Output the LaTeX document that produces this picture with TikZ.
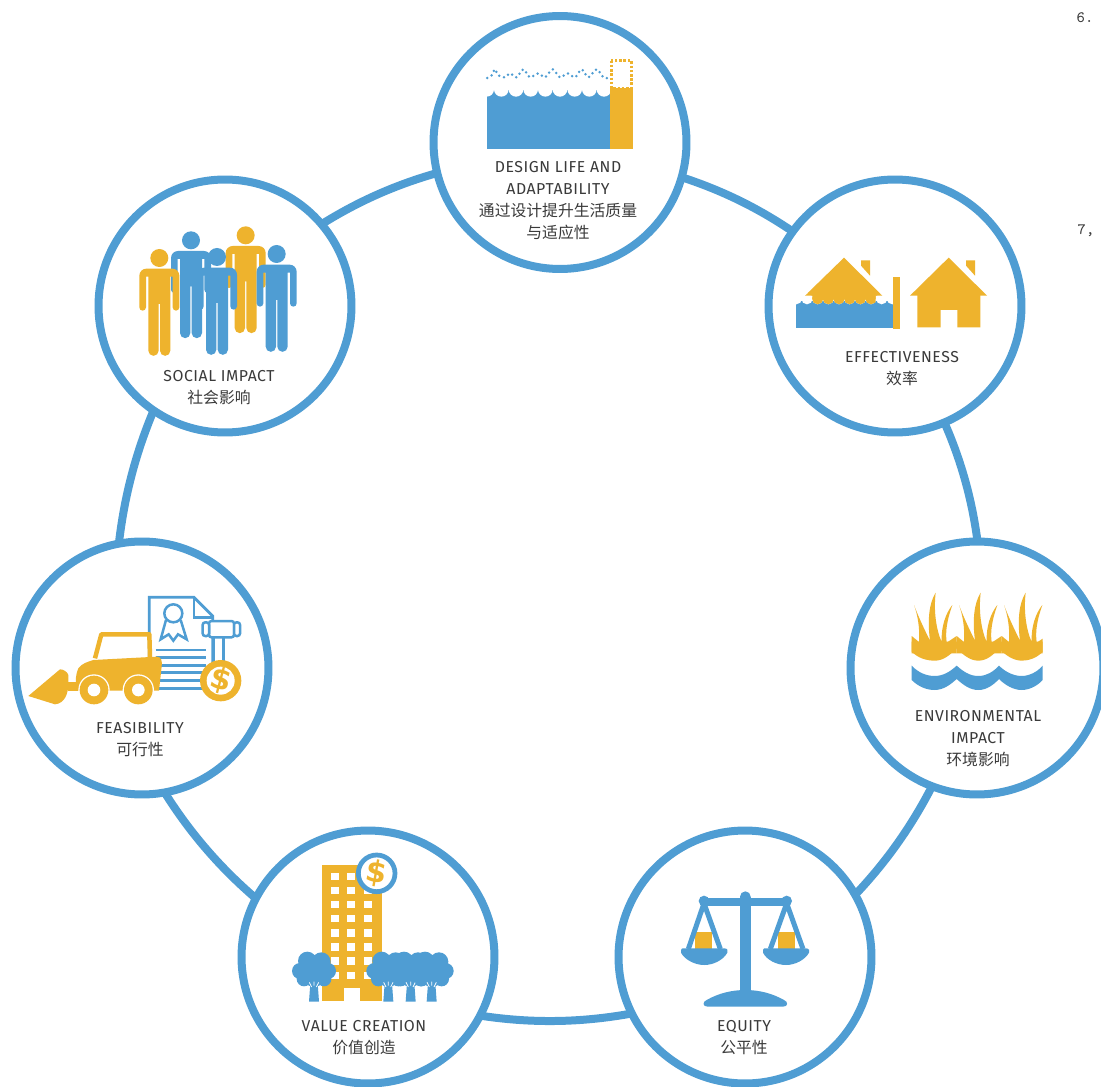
\documentclass[tikz,border=0pt]{standalone}
\usepackage{fontspec}
\setmainfont{Latin Modern Roman}
\newfontfamily\din[LetterSpace=3.5]{Fira Sans}
\newfontfamily\cjk{Noto Sans CJK SC}
\newfontfamily\heavy{DejaVu Sans}
\usetikzlibrary{arrows}
\definecolor{ringblue}{HTML}{4F9DD3}
\definecolor{iconyellow}{HTML}{EEB32D}
\definecolor{labelgray}{HTML}{3A3A3A}
\tikzset{
  ringnode/.style={circle,draw=ringblue,fill=white,line width=0.16cm,minimum size=5.06cm,inner sep=0pt},
  ringline/.style={draw=ringblue,line width=0.16cm,looseness=0.85,shorten <=-2pt,shorten >=-2pt},
  labeltext/.style={align=center,text=labelgray,font=\din\fontsize{9}{12.5}\selectfont},
  zoomed/.style={scale=1/3},
  dollar/.style={text=iconyellow,font=\heavy\bfseries\fontsize{17}{17}\selectfont,inner sep=0pt},
}
\begin{document}
\begin{tikzpicture}[x=0.02cm,y=-0.02cm]
\useasboundingbox (0,0) rectangle (1101,1087);
\clip (0,0) rectangle (1101,1087);

\node (design) [ringnode] at (560,142.5) {};
\node (effect) [ringnode] at (895,306) {};
\node (environ) [ringnode] at (977,668) {};
\node (equity) [ringnode] at (745,957) {};
\node (value) [ringnode] at (368,957) {};
\node (feasible) [ringnode] at (142,668) {};
\node (social) [ringnode] at (225,306) {};

\draw [ringline] (design.-16.7) to[bend left=8] (effect.144.8);
\draw [ringline] (effect.-67.2) to[bend left=8] (environ.90.9);
\draw [ringline] (environ.-111.1) to[bend left=8] (equity.30.7);
\draw [ringline] (equity.-154.4) to[bend left=9.5] (value.-27.6);
\draw [ringline] (value.152.3) to[bend left=8.5] (feasible.-79.7);
\draw [ringline] (feasible.100.6) to[bend left=8] (social.-124);
\draw [ringline] (social.40.4) to[bend left=8] (design.-166.7);

% design life
\begin{scope}[shift={(430,0)},zoomed]
\fill [ringblue] (171,270) rectangle (540,448);
\foreach \k in {170,214,258,302,346,390,434,478,522}
  \fill [white] (\k,268) circle (22);
\fill [iconyellow] (540,265) rectangle (608,448);
\draw [iconyellow,line width=0.05cm,dash pattern=on 0.05cm off 0.035cm] (544,182) rectangle (604,265);
\draw [ringblue,line width=0.055cm,line cap=round,dash pattern=on 0pt off 0.1cm] plot[smooth,tension=0.5] coordinates
  {(172,234) (185,226) (195,208) (205,226) (225,232) (240,220) (260,232) (280,208) (300,232) (325,220) (345,232) (368,208) (390,232) (412,220) (435,232) (455,208) (475,232) (500,208) (520,232) (540,234)};
\end{scope}
\node (designlabel) [labeltext] at (558,201) {DESIGN LIFE AND\\ADAPTABILITY\\{\cjk 通过设计提升生活质量}\\{\cjk 与适应性}};

% effectiveness
\begin{scope}[shift={(765,180)},zoomed]
\fill [iconyellow] (120,347) -- (237,233) -- (352,347) -- cycle;
\fill [iconyellow] (288,241) -- (315,241) -- (315,287) -- (288,257) -- cycle;
\fill [ringblue] (94,362) rectangle (384,445);
\foreach \k in {94,126,158,190,222,254,286,318,350,382}
  \fill [white] (\k,356) circle (17);
\begin{scope}
\clip (142,345) rectangle (332,380);
\fill [iconyellow] (142,345) rectangle (332,356);
\foreach \k in {126,158,190,222,254,286,318,350}
  \fill [iconyellow] (\k,356) circle (17);
\end{scope}
\fill [iconyellow] (120,347) -- (352,347) -- (338,335) -- (134,335) -- cycle;
\fill [iconyellow] (384,291) rectangle (405,447);
\fill [iconyellow] (435,347) -- (551,233) -- (666,347) -- cycle;
\fill [iconyellow] (603,241) -- (630,241) -- (630,287) -- (603,257) -- cycle;
\fill [iconyellow] (457,345) -- (646,345) -- (646,442) -- (577,442) -- (577,390) -- (527,390) -- (527,442) -- (457,442) -- cycle;
\end{scope}
\node (effectlabel) [labeltext] at (902,369) {EFFECTIVENESS\\{\cjk 效率}};

% environmental impact
\begin{scope}[shift={(845,540)},zoomed]
\begin{scope}
\clip (200,100) rectangle (593,500);
\foreach \d in {0,135,270} {
  \fill [iconyellow] (200+\d,288) -- (222+\d,306) .. controls (225+\d,265) and (218+\d,225) .. (207+\d,195)
    .. controls (224+\d,240) and (244+\d,280) .. (255+\d,302) .. controls (247+\d,240) and (252+\d,190) .. (272+\d,158)
    .. controls (266+\d,210) and (272+\d,265) .. (290+\d,306) .. controls (288+\d,260) and (302+\d,220) .. (322+\d,195)
    .. controls (308+\d,235) and (300+\d,270) .. (305+\d,308) -- (335+\d,288) -- (335+\d,340) -- (200+\d,340) -- cycle;
}
\end{scope}
\fill [iconyellow] (200,305) -- (593,305) -- (593,335) .. controls (575,355) and (550,362) .. (530,362)
  .. controls (505,362) and (480,345) .. (462,325) .. controls (445,345) and (425,362) .. (400,362)
  .. controls (375,362) and (355,345) .. (335,325) .. controls (315,345) and (295,362) .. (270,362)
  .. controls (245,362) and (220,355) .. (200,335) -- cycle;
\fill [ringblue] (200,377) .. controls (220,398) and (245,408) .. (268,408) .. controls (295,408) and (315,395) .. (335,377)
  .. controls (355,395) and (375,408) .. (400,408) .. controls (425,408) and (445,395) .. (462,377)
  .. controls (480,395) and (505,408) .. (530,408) .. controls (550,408) and (575,398) .. (593,377)
  -- (593,420) .. controls (575,440) and (550,450) .. (530,450) .. controls (505,450) and (480,435) .. (462,417)
  .. controls (445,435) and (425,450) .. (400,450) .. controls (375,450) and (355,435) .. (335,417)
  .. controls (315,435) and (295,450) .. (268,450) .. controls (245,450) and (220,440) .. (200,420) -- cycle;
\end{scope}
\node (environlabel) [labeltext] at (978,739) {ENVIRONMENTAL\\IMPACT\\{\cjk 环境影响}};

% equity
\begin{scope}[shift={(615,825)},zoomed]
\fill [iconyellow] (240,322) rectangle (292,372);
\fill [iconyellow] (488,322) rectangle (540,372);
\draw [ringblue,line width=0.1cm] (267,235) -- (220,372) (267,235) -- (316,372);
\draw [ringblue,line width=0.1cm] (515,235) -- (466,372) (515,235) -- (564,372);
\fill [ringblue] (198,378) .. controls (198,368) and (205,370) .. (210,370) -- (328,370) .. controls (338,370) and (340,378) .. (337,383) .. controls (325,405) and (295,420) .. (268,420) .. controls (240,420) and (210,405) .. (198,383) -- cycle;
\fill [ringblue] (444,378) .. controls (444,368) and (450,370) .. (455,370) -- (573,370) .. controls (583,370) and (585,378) .. (582,383) .. controls (570,405) and (540,420) .. (513,420) .. controls (485,420) and (455,405) .. (444,383) -- cycle;
\fill [ringblue] (265,218) rectangle (515,242);
\fill [ringblue] (267,228) circle (16) (515,228) circle (16) (391,215) circle (16);
\fill [ringblue] (375,215) rectangle (407,510);
\fill [ringblue] (278,545) .. controls (262,545) and (262,530) .. (275,525) .. controls (310,505) and (350,495) .. (391,495) .. controls (432,495) and (472,505) .. (507,525) .. controls (520,530) and (520,545) .. (504,545) -- cycle;
\end{scope}
\node (equitylabel) [labeltext] at (744,1038) {EQUITY\\{\cjk 公平性}};

% value creation
\begin{scope}[shift={(240,825)},zoomed]
\fill [iconyellow] (246,120) rectangle (425,528);
\foreach \c in {273,322,373}
  \foreach \r in {143,185,228,270,313,355,397,440}
    \fill [white] (\c,\r) rectangle ++(24,22);
\fill [white] (313,488) rectangle (360,528);
\draw [ringblue,line width=0.095cm,fill=white] (410,145) circle (55);
\foreach \t in {222,445,512,575} {
  \fill [ringblue] (\t-11,475) -- (\t+11,475) -- (\t+15,530) -- (\t-15,530) -- cycle;
  \fill [ringblue] (\t-42,438) circle (24) (\t+42,438) circle (24) (\t-20,408) circle (28) (\t+22,410) circle (28) (\t,445) circle (40) (\t-30,462) circle (22) (\t+30,462) circle (22);
  \draw [white,line width=0.015cm] (\t-14,472) -- (\t-7,486) (\t+14,472) -- (\t+7,486) (\t,470) -- (\t,482);
}
\node (valuedollar) [dollar,rotate=-10] at (410,145) {\$};
\end{scope}
\node (valuelabel) [labeltext] at (364,1038) {VALUE CREATION\\{\cjk 价值创造}};

% feasibility
\begin{scope}[shift={(10,540)},zoomed]
\draw [ringblue,line width=0.055cm] (608,370) -- (608,228) -- (552,172) -- (418,172) -- (418,360);
\draw [ringblue,line width=0.05cm] (552,172) -- (552,232) -- (608,232);
\draw [ringblue,line width=0.05cm] (490,220) circle (27);
\draw [ringblue,line width=0.05cm] (468,240) -- (452,298) -- (476,283) -- (490,302) -- (504,283) -- (530,298) -- (512,240);
\foreach \y in {330,352,376,398,422,445}
  \draw [ringblue,line width=0.05cm] (437,\y) -- (588,\y);
\draw [ringblue,line width=0.05cm] (612,292) -- (612,370) (640,292) -- (640,370);
\draw [ringblue,line width=0.05cm,fill=white,rounded corners=0.05cm] (597,243) rectangle (672,292);
\draw [ringblue,line width=0.05cm,fill=white,rounded corners=0.05cm] (578,247) rectangle (597,288);
\draw [ringblue,line width=0.05cm,fill=white,rounded corners=0.05cm] (672,247) rectangle (690,288);
\fill [iconyellow] (632,422) circle (62);
\fill [white] (632,422) circle (42);
\node (coindollar) [dollar,rotate=-15] at (632,422) {\$};
\draw [iconyellow,line width=0.09cm,line join=round] (255,355) -- (274,283) -- (418,283) -- (420,352);
\fill [iconyellow] (205,385) .. controls (215,370) and (235,365) .. (250,360) -- (440,350) .. controls (455,350) and (457,365) .. (455,380) -- (447,452) -- (200,452) .. controls (195,420) and (198,400) .. (205,385) -- cycle;
\fill [iconyellow] (175,425) rectangle (205,452);
\fill [iconyellow] (55,468) -- (150,388) .. controls (160,388) and (172,395) .. (175,405) -- (175,430) .. controls (175,460) and (165,490) .. (135,493) -- cycle;
\foreach \w in {252,385} {
  \fill [white] (\w,450) circle (47);
  \fill [iconyellow] (\w,450) circle (43);
  \fill [white] (\w,450) circle (19);
}
\end{scope}
\node (feasiblelabel) [labeltext] at (140,740) {FEASIBILITY\\{\cjk 可行性}};

% social impact
\begin{scope}[shift={(100,180)},zoomed]
\foreach \px/\py/\pc in {273/213/ringblue,437/198/iconyellow,178/266/iconyellow,351/263/ringblue,530/254/ringblue} {
  \fill [\pc] (\px,\py-32) circle (27);
  \fill [\pc] (\px-39,\py) -- (\px+39,\py) arc[start angle=-90,end angle=0,radius=21] -- ++(0,95) arc[start angle=0,end angle=180,radius=10] -- ++(0,-92) -- ++(-7,0) -- ++(0,222) arc[start angle=0,end angle=180,radius=15.5] -- ++(0,-140) -- ++(-4,0) -- ++(0,140) arc[start angle=0,end angle=180,radius=15.5] -- ++(0,-222) -- ++(-7,0) -- ++(0,92) arc[start angle=0,end angle=180,radius=10] -- ++(0,-95) arc[start angle=180,end angle=270,radius=21] -- cycle;
}
\end{scope}
\node (sociallabel) [labeltext] at (219,388) {SOCIAL IMPACT\\{\cjk 社会影响}};

\node (sixnote) [text=labelgray,font=\ttfamily\small] at (1085,18) {6.};
\node (sevennote) [text=labelgray,font=\ttfamily\small] at (1086,231) {7,};
\end{tikzpicture}
\end{document}
